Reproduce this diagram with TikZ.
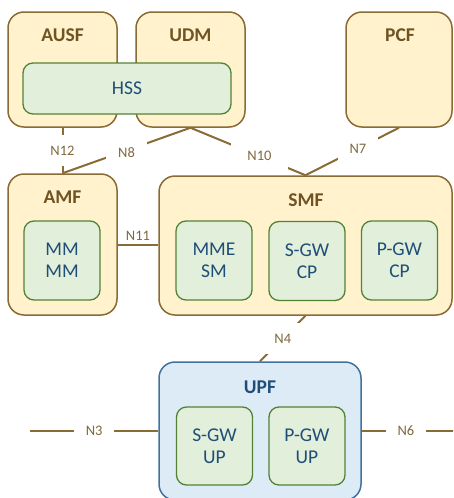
\documentclass[tikz,border=0pt]{standalone}
\usepackage{fontspec}
\setmainfont{Carlito}
\usepackage{xcolor}

\definecolor{nfFill}{HTML}{FFF2CC}
\definecolor{nfLine}{HTML}{8A6A35}
\definecolor{nfText}{HTML}{6F5324}
\definecolor{ifText}{HTML}{7F6A3C}
\definecolor{subFill}{HTML}{E2EFDA}
\definecolor{subLine}{HTML}{548235}
\definecolor{subText}{HTML}{1F4E79}
\definecolor{upFill}{HTML}{DDEBF7}
\definecolor{upLine}{HTML}{41719C}

\begin{document}
\begin{tikzpicture}[x=1pt, y=-1pt,
    nfbox/.style={draw=nfLine, fill=nfFill, line width=1.5pt, rounded corners=16pt, inner sep=0pt},
    subbox/.style={draw=subLine, fill=subFill, line width=1.3pt, rounded corners=10pt,
        minimum width=76pt, minimum height=79pt, inner sep=0pt, align=center,
        text=subText, font=\fontsize{19.5}{22}\selectfont},
    nftitle/.style={text=nfText, font=\bfseries\fontsize{19.5}{23}\selectfont},
    iface/.style={draw=nfLine, line width=2pt},
    iflabel/.style={fill=white, inner xsep=12pt, inner ysep=11pt, text=ifText,
        font=\fontsize{14.5}{17}\selectfont}]

    % --- 1. CANVAS ---
    \useasboundingbox (0,0) rectangle (453,498);
    \clip (0,0) rectangle (453,498);

    % --- 2. DATA MANAGEMENT (AUSF, UDM, HSS) ---
    \node[nfbox, minimum width=109pt, minimum height=115pt] (ausf) at (62.5,69.5) {};
    \node[nftitle] (ausftitle) at (62.5,35) {AUSF};
    \node[nfbox, minimum width=109pt, minimum height=115pt] (udm) at (190.5,69.5) {};
    \node[nftitle] (udmtitle) at (190.5,35) {UDM};
    \node[subbox, minimum width=208pt, minimum height=51pt] (hss) at (127,88.5) {HSS};

    % Policy
    \node[nfbox, minimum width=106pt, minimum height=115pt] (pcf) at (399,69.5) {};
    \node[nftitle] (pcftitle) at (400,35) {PCF};

    % --- 3. CONTROL PLANE (AMF, SMF) ---
    \node[nfbox, minimum width=109pt, minimum height=141pt] (amf) at (62.5,244.5) {};
    \node[nftitle] (amftitle) at (62.5,197) {AMF};
    \node[subbox] (mm) at (62,260.5) {MM\\MM};

    \node[nfbox, minimum width=293pt, minimum height=139pt] (smf) at (305.5,245.5) {};
    \node[nftitle] (smftitle) at (306,200) {SMF};
    \node[subbox] (mme) at (214,260.5) {MME\\SM};
    \node[subbox] (sgwcp) at (307,261) {S-GW\\CP};
    \node[subbox] (pgwcp) at (399.5,260.5) {P-GW\\CP};

    % --- 4. USER PLANE (UPF) ---
    \node[nfbox, draw=upLine, fill=upFill, minimum width=202pt, minimum height=138pt] (upf) at (260,431) {};
    \node[nftitle, text=subText] (upftitle) at (260,387) {UPF};
    \node[subbox, minimum height=78pt] (sgwup) at (214.5,446) {S-GW\\UP};
    \node[subbox, minimum height=78pt] (pgwup) at (307,446) {P-GW\\UP};

    % --- 5. REFERENCE POINTS ---
    \coordinate (ranend) at (30,431);
    \coordinate (dnend) at (460,431);

    \draw[iface] (ausf.south) -- node[iflabel] {N12} (amf.north);
    \draw[iface] (udm.south) -- node[iflabel, text height=15pt, inner ysep=8pt] {N8} (amf.north);
    \draw[iface] (udm.south) -- node[iflabel, pos=0.6, inner xsep=16pt] {N10} (smf.north);
    \draw[iface] (pcf.south) -- node[iflabel, pos=0.44] {N7} (smf.north);
    \draw[iface] (amf.east) -- node[above, text=ifText, font=\fontsize{14.5}{17}\selectfont] {N11} (amf.east -| smf.west);
    \draw[iface] (smf.south) -- node[iflabel] {N4} (upf.north);
    \draw[iface] (ranend) -- node[iflabel] {N3} (upf.west);
    \draw[iface] (upf.east) -- node[iflabel, pos=0.45] {N6} (dnend);

\end{tikzpicture}
\end{document}
